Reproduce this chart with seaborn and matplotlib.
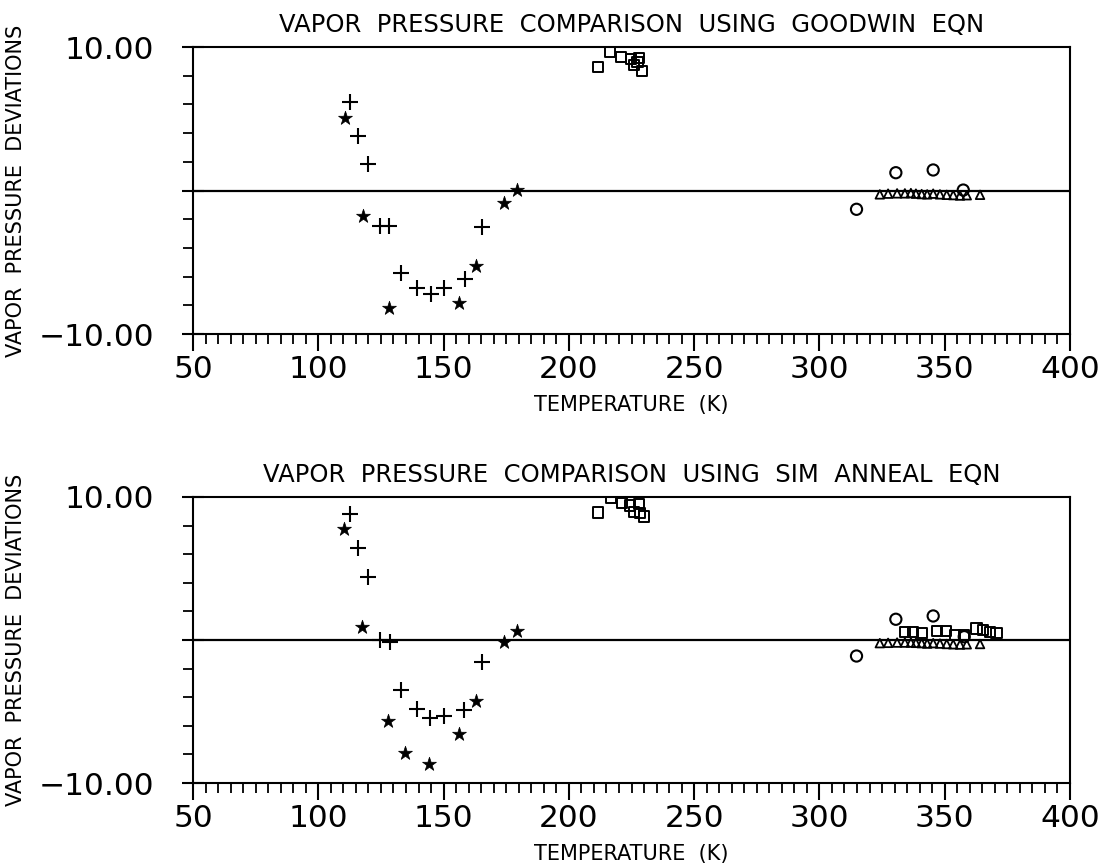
import numpy as np
import pandas as pd
import matplotlib
matplotlib.use("Agg")
import matplotlib.pyplot as plt
import seaborn as sns
from matplotlib.ticker import FixedLocator, MultipleLocator, FixedFormatter

# ---------------- data ----------------
titles = ["VAPOR  PRESSURE  COMPARISON  USING  GOODWIN  EQN",
          "VAPOR  PRESSURE  COMPARISON  USING  SIM  ANNEAL  EQN"]
xlabel = "TEMPERATURE  (K)"
ylabel = "VAPOR  PRESSURE  DEVIATIONS"
xticks = [50, 100, 150, 200, 250, 300, 350, 400]
yticks = [-10, 0, 10]
ytick_labels = ["\u221210.00", "", "10.00"]

# top panel (Goodwin)
top_plus_T = [112.6, 116.0, 119.7, 124.6, 128.3, 133.1, 139.5, 144.8, 150.3, 158.7, 165.3]
top_plus_d = [6.19, 3.80, 1.87, -2.47, -2.47, -5.77, -6.82, -7.21, -6.82, -6.14, -2.52]
top_star_T = [110.7, 117.7, 128.1, 156.3, 162.9, 174.1, 179.3]
top_star_d = [5.07, -1.78, -8.17, -7.86, -5.26, -0.87, 0.03]
top_sq_T = [211.5, 216.4, 220.8, 224.7, 228.1, 226.1, 227.4, 229.3]
top_sq_d = [8.63, 9.63, 9.32, 9.16, 9.21, 8.75, 8.95, 8.35]
top_circ_T = [314.8, 330.5, 345.4, 357.4]
top_circ_d = [-1.31, 1.24, 1.43, 0.03]
top_tri_T = [324.1, 327.4, 331.0, 334.1, 336.5, 338.5, 340.8, 343.0, 345.4,
             348.1, 350.8, 353.4, 356.1, 358.8, 364.1]
top_tri_d = [-0.27, -0.22, -0.20, -0.20, -0.18, -0.22, -0.25, -0.27, -0.22,
             -0.27, -0.30, -0.32, -0.35, -0.33, -0.30]

# bottom panel (Sim anneal)
bot_plus_T = [112.6, 116.0, 119.7, 124.6, 128.6, 132.9, 139.3, 144.6, 150.3, 158.3, 165.3]
bot_plus_d = [8.80, 6.42, 4.43, 0.00, -0.12, -3.50, -4.86, -5.44, -5.30, -4.90, -1.56]
bot_star_T = [110.4, 117.6, 127.9, 134.6, 144.1, 156.1, 162.8, 174.1, 179.3]
bot_star_d = [7.77, 0.93, -5.67, -7.89, -8.64, -6.54, -4.25, -0.14, 0.63]
bot_sq_T = [211.7, 216.8, 221.1, 224.4, 228.1, 226.1, 228.5, 230.0,
            334.1, 337.4, 340.8, 346.8, 350.5, 354.1, 357.8, 362.7, 365.4, 368.0, 370.7]
bot_sq_d = [8.91, 9.95, 9.60, 9.40, 9.50, 8.94, 8.90, 8.63,
            0.58, 0.58, 0.47, 0.63, 0.63, 0.33, 0.33, 0.80, 0.68, 0.58, 0.47]
bot_circ_T = [314.8, 330.5, 345.4, 357.8]
bot_circ_d = [-1.12, 1.45, 1.68, 0.23]
bot_tri_T = [324.1, 327.4, 331.0, 334.1, 336.5, 338.5, 340.8, 343.0, 345.4,
             348.1, 350.8, 353.4, 356.1, 358.8, 364.1]
bot_tri_d = [-0.22, -0.20, -0.18, -0.18, -0.18, -0.20, -0.22, -0.25, -0.22,
             -0.25, -0.28, -0.30, -0.32, -0.30, -0.28]

panels = [
    dict(plus=(top_plus_T, top_plus_d), star=(top_star_T, top_star_d),
         sq=(top_sq_T, top_sq_d), circ=(top_circ_T, top_circ_d), tri=(top_tri_T, top_tri_d)),
    dict(plus=(bot_plus_T, bot_plus_d), star=(bot_star_T, bot_star_d),
         sq=(bot_sq_T, bot_sq_d), circ=(bot_circ_T, bot_circ_d), tri=(bot_tri_T, bot_tri_d)),
]

# ---------------- styling ----------------
sns.set_style("white")
plt.rcParams["font.family"] = ["DejaVu Sans"]
plt.rcParams["axes.linewidth"] = 1.5
plt.rcParams["text.color"] = "black"
plt.rcParams["axes.labelcolor"] = "black"
plt.rcParams["xtick.color"] = "black"
plt.rcParams["ytick.color"] = "black"

fig = plt.figure(figsize=(11.03, 8.63), dpi=100)
W, H = 1103, 863
boxes = [(193, 47, 1070, 334), (193, 497, 1070, 783)]

for i, (panel, box) in enumerate(zip(panels, boxes)):
    l, t, r, b = box
    ax = fig.add_axes([l / W, 1 - b / H, (r - l) / W, (b - t) / H])
    ax.axhline(0, color="black", lw=1.6, zorder=1)

    sns.scatterplot(x=panel["plus"][0], y=panel["plus"][1], marker="+", s=120,
                    color="black", linewidth=1.5, ax=ax, zorder=3)
    sns.scatterplot(x=panel["star"][0], y=panel["star"][1], marker="*", s=110,
                    color="black", edgecolor="black", linewidth=0.5, ax=ax, zorder=3)
    sns.scatterplot(x=panel["sq"][0], y=panel["sq"][1], marker="s", s=55,
                    facecolor="none", edgecolor="black", linewidth=1.4, ax=ax, zorder=3)
    sns.scatterplot(x=panel["circ"][0], y=panel["circ"][1], marker="o", s=65,
                    facecolor="none", edgecolor="black", linewidth=1.5, ax=ax, zorder=3)
    sns.scatterplot(x=panel["tri"][0], y=panel["tri"][1], marker="^", s=38,
                    facecolor="none", edgecolor="black", linewidth=1.3, ax=ax, zorder=3)

    ax.set_xlim(50, 400)
    ax.set_ylim(-10, 10)
    ax.xaxis.set_major_locator(FixedLocator(xticks))
    ax.xaxis.set_minor_locator(MultipleLocator(5))
    ax.yaxis.set_major_locator(FixedLocator(yticks))
    ax.yaxis.set_major_formatter(FixedFormatter(ytick_labels))
    ax.yaxis.set_minor_locator(MultipleLocator(2))

    ax.tick_params(axis="x", which="major", direction="out", length=12, width=1.5,
                   labelsize=22.5, pad=3, bottom=True, top=False)
    ax.tick_params(axis="x", which="minor", direction="out", length=7, width=1.3,
                   bottom=True, top=False)
    ax.tick_params(axis="y", which="major", direction="inout", length=16, width=1.5,
                   labelsize=22.5, pad=20, left=True, right=False)
    ax.tick_params(axis="y", which="minor", direction="out", length=7.5, width=1.3,
                   left=True, right=False)
    for sp in ax.spines.values():
        sp.set_visible(True)
        sp.set_color("black")
        sp.set_linewidth(1.5)

    ax.set_title(titles[i], fontsize=17.5, pad=11, color="black")
    ax.set_xlabel(xlabel, fontsize=15, labelpad=8)
    ax.set_ylabel(ylabel, fontsize=15)
    ax.yaxis.set_label_coords(-0.19, 0.5)

fig.savefig("out.png", dpi=100, facecolor="white")
